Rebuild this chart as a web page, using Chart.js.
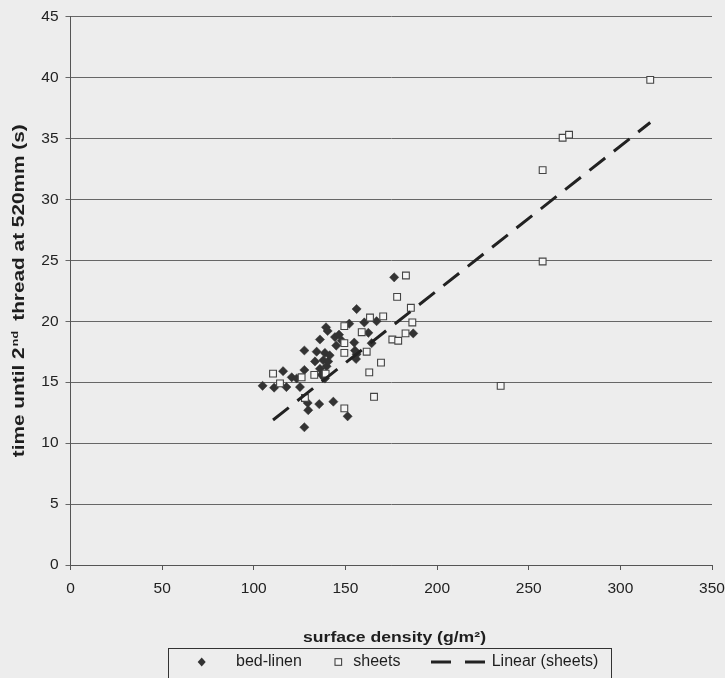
<!DOCTYPE html>
<html>
<head>
<meta charset="utf-8">
<script src="https://cdn.jsdelivr.net/npm/chart.js@4.4.1/dist/chart.umd.min.js"></script>
<style>
html,body{margin:0;padding:0;background:#ededed;}
canvas{display:block;}
</style>
</head>
<body>
<canvas id="c" width="725" height="678"></canvas>
<script>
// ---- data ----
const bedLinenX = [104.8,111.1,116.0,117.8,120.7,123.4,125.2,127.6,127.6,127.6,129.4,129.7,133.4,134.3,135.7,136.1,136.1,137.0,137.9,138.8,138.8,139.4,139.7,140.3,140.6,141.4,143.4,144.3,145.0,146.5,148.0,151.2,152.1,154.8,155.2,156.1,155.8,156.1,160.3,162.5,164.3,167.0,176.6,187.0];
const bedLinenY = [14.7,14.55,15.9,14.6,15.4,15.3,14.6,16.0,17.6,11.3,13.3,12.7,16.7,17.5,13.2,18.5,16.1,15.6,16.8,17.4,15.3,19.5,16.3,19.2,16.7,17.2,13.4,18.7,18.0,18.9,18.4,12.2,19.8,18.25,17.6,17.3,16.9,21.0,19.9,19.05,18.2,20.0,23.6,19.0];

const sheetsX = [110.5,114.3,126.1,127.9,133.0,139.2,149.4,149.4,149.4,149.4,158.9,161.6,163.0,163.4,165.6,169.4,170.6,175.6,178.8,182.8,186.5,185.7,178.2,183.0,234.7,257.6,257.6,268.5,272.0,316.3];
const sheetsY = [15.7,14.9,15.4,13.7,15.6,15.7,19.6,18.2,17.4,12.85,19.1,17.5,15.8,20.3,13.8,16.6,20.4,18.5,18.4,19.0,19.9,21.1,22.0,23.75,14.7,24.9,32.4,35.05,35.3,39.8];

// Linear (sheets) trend line end points as drawn in the picture
const trendX = [110.5, 316.3];
const trendY = [11.9, 36.3];

const xTicks = [0,50,100,150,200,250,300,350];
const yTicks = [0,5,10,15,20,25,30,35,40,45];

const xTitle = 'surface density (g/m²)';
const yTitleParts = ['time until 2', 'nd', '  thread at 520mm (s)'];
const legendLabels = ['bed-linen', 'sheets', 'Linear (sheets)'];

const pts = (xs, ys) => xs.map((x, i) => ({x: x, y: ys[i]}));

const FONT = "'Liberation Sans', Arial, sans-serif";

const bgPlugin = {
  id: 'bg',
  beforeDraw(chart) {
    const ctx = chart.ctx;
    ctx.save();
    ctx.fillStyle = '#ededed';
    ctx.fillRect(0, 0, chart.width, chart.height);
    ctx.restore();
  }
};

const annoPlugin = {
  id: 'anno',
  afterDraw(chart) {
    const ctx = chart.ctx;
    const ca = chart.chartArea;
    ctx.save();
    ctx.fillStyle = '#1e1e1e';
    ctx.strokeStyle = '#1e1e1e';

    // y axis title (rotated, with superscript)
    ctx.save();
    const cy = (ca.top + ca.bottom) / 2;
    ctx.translate(20, cy);
    ctx.rotate(-Math.PI / 2);
    const mainFont = 'bold 16px ' + FONT;
    const supFont = 'bold 9.5px ' + FONT;
    ctx.font = mainFont;
    const w0 = ctx.measureText(yTitleParts[0]).width;
    const w2 = ctx.measureText(yTitleParts[2]).width;
    ctx.font = supFont;
    const w1 = ctx.measureText(yTitleParts[1]).width;
    const total = w0 + w1 + w2;
    const target = 333;
    ctx.scale(target / total, 1);
    ctx.textBaseline = 'middle';
    ctx.textAlign = 'left';
    let x = -total / 2;
    ctx.font = mainFont;
    ctx.fillText(yTitleParts[0], x, 0);
    x += w0;
    ctx.font = supFont;
    ctx.fillText(yTitleParts[1], x + 1, -5);
    x += w1;
    ctx.font = mainFont;
    ctx.fillText(yTitleParts[2], x, 0);
    ctx.restore();

    // x axis title
    ctx.save();
    ctx.font = 'bold 15px ' + FONT;
    const xw = ctx.measureText(xTitle).width;
    ctx.translate(394.5, 637.5);
    ctx.scale(183 / xw, 1);
    ctx.textAlign = 'center';
    ctx.textBaseline = 'middle';
    ctx.fillText(xTitle, 0, 0);
    ctx.restore();

    // legend box
    ctx.save();
    ctx.lineWidth = 1;
    ctx.strokeStyle = '#333';
    ctx.strokeRect(168.5, 648.5, 443, 40);
    const ly = 662;
    // diamond
    ctx.fillStyle = '#333';
    ctx.beginPath();
    ctx.moveTo(201.7 - 4, ly);
    ctx.lineTo(201.7, ly - 4.5);
    ctx.lineTo(201.7 + 4, ly);
    ctx.lineTo(201.7, ly + 4.5);
    ctx.closePath();
    ctx.fill();
    // square
    ctx.lineWidth = 1.1;
    ctx.strokeStyle = '#444';
    ctx.fillStyle = '#f6f6f6';
    ctx.fillRect(335, ly - 3.3, 6.6, 6.6);
    ctx.strokeRect(335, ly - 3.3, 6.6, 6.6);
    // dashes
    ctx.strokeStyle = '#222';
    ctx.lineWidth = 3;
    ctx.setLineDash([20, 14]);
    ctx.beginPath();
    ctx.moveTo(431, ly);
    ctx.lineTo(485, ly);
    ctx.stroke();
    ctx.setLineDash([]);
    // labels
    ctx.fillStyle = '#1e1e1e';
    ctx.font = '16px ' + FONT;
    ctx.textBaseline = 'middle';
    ctx.textAlign = 'left';
    ctx.fillText(legendLabels[0], 236, ly);
    ctx.fillText(legendLabels[1], 353.3, ly);
    ctx.fillText(legendLabels[2], 491.7, ly);
    ctx.restore();

    ctx.restore();
  }
};

new Chart(document.getElementById('c'), {
  type: 'scatter',
  data: {
    datasets: [
      {
        label: legendLabels[2],
        data: pts(trendX, trendY),
        showLine: true,
        borderColor: '#222',
        borderWidth: 3,
        borderDash: [20, 11],
        pointRadius: 0,
        fill: false,
        order: 0
      },
      {
        label: legendLabels[0],
        data: pts(bedLinenX, bedLinenY),
        pointStyle: 'rectRot',
        pointRadius: 4.6,
        backgroundColor: '#333',
        borderColor: '#333',
        borderWidth: 0.5,
        order: 2
      },
      {
        label: legendLabels[1],
        data: pts(sheetsX, sheetsY),
        pointStyle: 'rect',
        pointRadius: 4.8,
        backgroundColor: '#f6f6f6',
        borderColor: '#444',
        borderWidth: 1.1,
        order: 1
      }
    ]
  },
  options: {
    responsive: false,
    animation: false,
    events: [],
    layout: { padding: { top: 16.5, right: 13, bottom: 0, left: 0 } },
    plugins: {
      legend: { display: false },
      tooltip: { enabled: false },
      title: { display: false }
    },
    scales: {
      x: {
        type: 'linear',
        min: 0,
        max: 350,
        afterBuildTicks(scale) { scale.ticks = xTicks.map(v => ({ value: v })); },
        afterFit(scale) { scale.height = 113; scale.paddingLeft = 0; scale.paddingRight = 0; },
        grid: { display: true, drawOnChartArea: false, drawTicks: true, tickLength: 5, color: '#555', lineWidth: 1 },
        border: { display: true, color: '#555', width: 1 },
        ticks: { color: '#222', padding: 9, maxRotation: 0, autoSkip: false, font: { family: FONT, size: 15.5 } }
      },
      y: {
        type: 'linear',
        min: 0,
        max: 45,
        afterBuildTicks(scale) { scale.ticks = yTicks.map(v => ({ value: v })); },
        afterFit(scale) { scale.width = 70.5; scale.paddingTop = 0; scale.paddingBottom = 0; },
        grid: { display: true, drawOnChartArea: true, drawTicks: true, tickLength: 5, color: '#666', lineWidth: 1 },
        border: { display: true, color: '#555', width: 1 },
        ticks: { color: '#222', padding: 7, autoSkip: false, font: { family: FONT, size: 15.5 } }
      }
    }
  },
  plugins: [bgPlugin, annoPlugin]
});
</script>
</body>
</html>
